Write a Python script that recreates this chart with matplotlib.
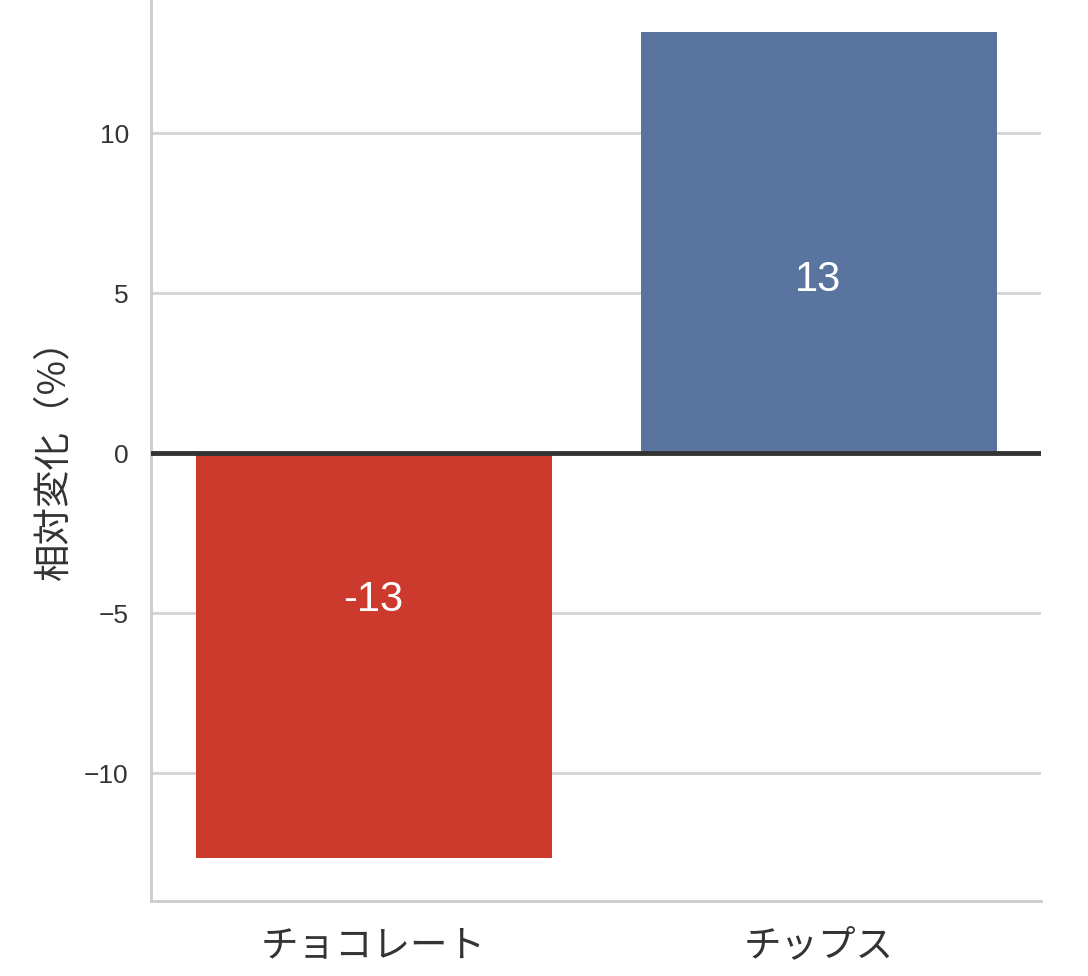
import matplotlib
matplotlib.use("Agg")
import matplotlib.pyplot as plt

categories = ["チョコレート", "チップス"]
values = [-12.66, 13.16]
label_y = [-4.6, 5.4]
bar_colors = ["#CC3A2E", "#58749F"]
yticks = [-10, -5, 0, 5, 10]

plt.rcParams['font.family'] = ['Liberation Sans', 'Noto Sans CJK JP', 'DejaVu Sans']
plt.rcParams['axes.unicode_minus'] = True

fig = plt.figure(figsize=(10.88, 9.76), dpi=100)
ax = fig.add_axes([151/1088, 1 - 901/976, (1041-151)/1088, 901/976])

x = list(range(len(categories)))
ax.set_axisbelow(True)
ax.yaxis.grid(True, color="#d4d4d4", linewidth=2)
ax.bar(x, values, width=0.8, color=bar_colors, zorder=2)
ax.axhline(0, color="#333333", linewidth=3.5, zorder=3)

for xi, v, ly in zip(x, values, label_y):
    ax.text(xi, ly, f"{v:.0f}", color="white", fontsize=30, ha="center", va="center",
            family=['Liberation Sans', 'DejaVu Sans'], zorder=4)

ax.set_xlim(-0.5, 1.5)
ax.set_ylim(-14, 14.16)
ax.set_yticks(yticks)
ax.set_xticks(x)
ax.set_xticklabels(categories, fontsize=27, color="#333333", family=['Noto Sans CJK JP', 'DejaVu Sans'])
ax.tick_params(axis='y', labelsize=19, colors="#333333", length=0, pad=16)
ax.tick_params(axis='x', length=0, pad=18)
ax.set_ylabel("相対変化（%）", fontsize=27, color="#333333", labelpad=8,
              family=['Noto Sans CJK JP', 'DejaVu Sans'])

for s in ["top", "right"]:
    ax.spines[s].set_visible(False)
for s in ["left", "bottom"]:
    ax.spines[s].set_color("#cccccc")
    ax.spines[s].set_linewidth(2)

fig.savefig("out.png", dpi=100, facecolor="white")
